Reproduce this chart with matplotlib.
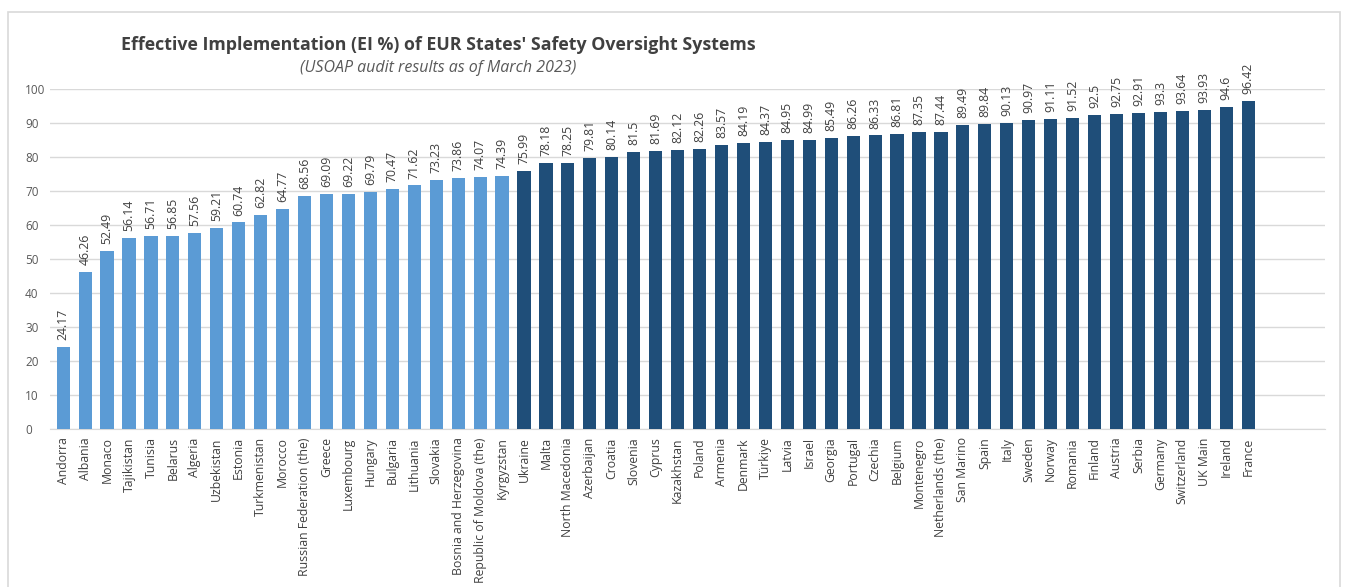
import matplotlib.pyplot as plt
from matplotlib.patches import Rectangle

countries = ["Andorra", "Albania", "Monaco", "Tajikistan", "Tunisia", "Belarus", "Algeria",
             "Uzbekistan", "Estonia", "Turkmenistan", "Morocco", "Russian Federation (the)",
             "Greece", "Luxembourg", "Hungary", "Bulgaria", "Lithuania", "Slovakia",
             "Bosnia and Herzegovina", "Republic of Moldova (the)", "Kyrgyzstan",
             "Ukraine", "Malta", "North Macedonia", "Azerbaijan", "Croatia", "Slovenia",
             "Cyprus", "Kazakhstan", "Poland", "Armenia", "Denmark", "Türkiye", "Latvia",
             "Israel", "Georgia", "Portugal", "Czechia", "Belgium", "Montenegro",
             "Netherlands (the)", "San Marino", "Spain", "Italy", "Sweden", "Norway",
             "Romania", "Finland", "Austria", "Serbia", "Germany", "Switzerland",
             "UK Main", "Ireland", "France"]
ei_values = [24.17, 46.26, 52.49, 56.14, 56.71, 56.85, 57.56, 59.21, 60.74, 62.82, 64.77,
             68.56, 69.09, 69.22, 69.79, 70.47, 71.62, 73.23, 73.86, 74.07, 74.39,
             75.99, 78.18, 78.25, 79.81, 80.14, 81.5, 81.69, 82.12, 82.26, 83.57, 84.19,
             84.37, 84.95, 84.99, 85.49, 86.26, 86.33, 86.81, 87.35, 87.44, 89.49, 89.84,
             90.13, 90.97, 91.11, 91.52, 92.5, 92.75, 92.91, 93.3, 93.64, 93.93, 94.6, 96.42]
value_labels = ["24.17", "46.26", "52.49", "56.14", "56.71", "56.85", "57.56", "59.21",
                "60.74", "62.82", "64.77", "68.56", "69.09", "69.22", "69.79", "70.47",
                "71.62", "73.23", "73.86", "74.07", "74.39", "75.99", "78.18", "78.25",
                "79.81", "80.14", "81.5", "81.69", "82.12", "82.26", "83.57", "84.19",
                "84.37", "84.95", "84.99", "85.49", "86.26", "86.33", "86.81", "87.35",
                "87.44", "89.49", "89.84", "90.13", "90.97", "91.11", "91.52", "92.5",
                "92.75", "92.91", "93.3", "93.64", "93.93", "94.6", "96.42"]
n_light = 21  # below 75 %

light_blue = "#5B9BD5"
dark_blue = "#1F4E79"
colors = [light_blue if i < n_light else dark_blue for i in range(len(countries))]

plt.rcParams['font.family'] = ['Open Sans', 'DejaVu Sans']

fig = plt.figure(figsize=(13.46, 5.87), dpi=100)
fig.patches.append(Rectangle((8 / 1346, -0.01), 1332 / 1346, 1 - 12 / 587 + 0.01,
                             transform=fig.transFigure, fill=False,
                             edgecolor="#D9D9D9", linewidth=1.2))
ax = fig.add_axes([50 / 1346, 1 - 429 / 587, 1275 / 1346, 340 / 587])

x = range(len(countries))
bars = ax.bar(x, ei_values, width=0.6, color=colors, zorder=3)

for b, lab in zip(bars, value_labels):
    ax.annotate(lab, (b.get_x() + b.get_width() / 2, b.get_height()),
                xytext=(0, 5), textcoords="offset points", rotation=90,
                ha="center", va="bottom", fontsize=8.8, color="#404040")

ax.set_xlim(-0.6, 57.5)
ax.set_ylim(0, 100)
ax.set_yticks(range(0, 101, 10))
ax.set_xticks(list(x))
ax.set_xticklabels(countries, rotation=90, fontsize=8.8, color="#404040")
ax.tick_params(axis="y", labelsize=8.5, labelcolor="#595959", length=0, pad=18)
ax.tick_params(axis="x", length=0, pad=6)
ax.grid(axis="y", color="#D9D9D9", linewidth=1, zorder=0)
for s in ["top", "right", "left"]:
    ax.spines[s].set_visible(False)
ax.spines["bottom"].set_color("#D9D9D9")
for lbl in ax.get_yticklabels():
    lbl.set_horizontalalignment("left")

fig.text(438 / 1346, 1 - 45 / 587, "Effective Implementation (EI %) of EUR States' Safety Oversight Systems",
         ha="center", va="center", fontsize=12.8, fontweight="bold", color="#404040")
fig.text(438 / 1346, 1 - 68 / 587, "(USOAP audit results as of March 2023)",
         ha="center", va="center", fontsize=11.5, style="italic", color="#595959")

fig.savefig("out.png", dpi=100)
